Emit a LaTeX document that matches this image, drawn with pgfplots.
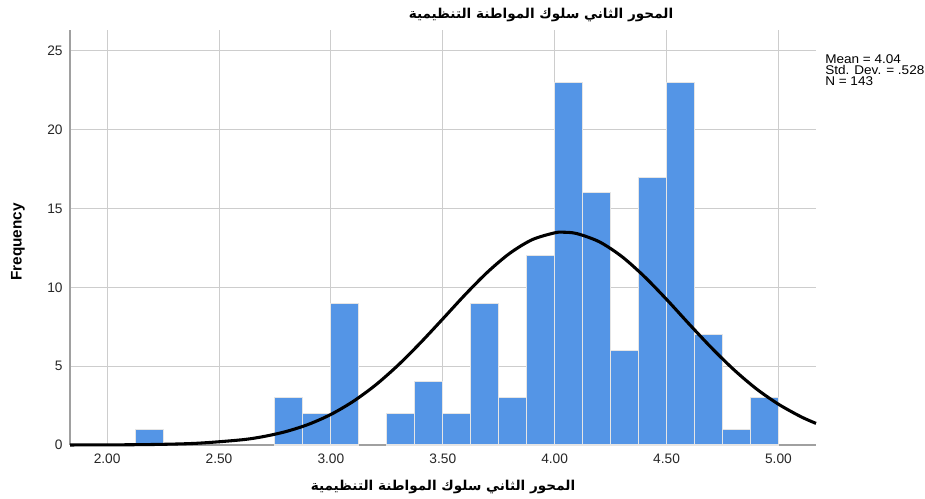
\documentclass[border=0pt]{standalone}
\usepackage{pgfplots}
\pgfplotsset{compat=1.18}
\usepackage{fontspec}
\setmainfont{Liberation Sans}
\newfontfamily\legfont[FakeStretch=1.07]{Liberation Sans}
\newfontfamily\arabicfont[Script=Arabic]{DejaVu Sans}
\TeXXeTstate=1
\definecolor{barblue}{RGB}{84,149,230}
\definecolor{gridgray}{RGB}{205,205,205}
\definecolor{axgray}{RGB}{160,160,160}
\begin{document}
\begin{tikzpicture}
\begin{axis}[
  scale only axis, width=559.5pt, height=311.25pt,
  xmin=1.834, xmax=5.168, ymin=0, ymax=26.33,
  axis x line*=bottom, axis y line*=left,
  axis line style={axgray, line width=1.2pt, -},
  xtick={2,2.5,...,5}, ytick={0,5,...,25},
  xticklabel style={/pgf/number format/fixed, /pgf/number format/zerofill, /pgf/number format/precision=2},
  /pgf/number format/assume math mode=true,
  tick label style={font=\fontsize{10.3}{12}\selectfont, text=black!85},
  major tick length=0pt,
  grid=major, major grid style={gridgray, line width=0.75pt},
  yticklabel style={xshift=-2pt},
  xticklabel style={yshift=-3pt},
  clip=false,
]
\addplot[ybar interval, fill=barblue, draw=white!90!black, line width=0.8pt] coordinates {
 (2.125,1) (2.25,1)
};
\addplot[ybar interval, fill=barblue, draw=white!90!black, line width=0.8pt] coordinates {
 (2.75,3) (2.875,2) (3.0,9) (3.125,9)
};
\addplot[ybar interval, fill=barblue, draw=white!90!black, line width=0.8pt] coordinates {
 (3.25,2) (3.375,4) (3.5,2) (3.625,9) (3.75,3) (3.875,12) (4.0,23) (4.125,16)
 (4.25,6) (4.375,17) (4.5,23) (4.625,7) (4.75,1) (4.875,3) (5.0,3)
};
\addplot[black, line width=2.3pt, smooth] coordinates {
 (1.834,0.002) (2.0,0.008) (2.2,0.031) (2.4,0.109) (2.6,0.328) (2.7,0.539)
 (2.8,0.857) (2.9,1.312) (3.0,1.94) (3.1,2.77) (3.2,3.81) (3.3,5.06)
 (3.4,6.48) (3.5,8.00) (3.6,9.54) (3.7,10.97) (3.8,12.17) (3.9,13.03)
 (4.0,13.46) (4.04,13.5) (4.1,13.41) (4.2,12.89) (4.3,11.96) (4.4,10.70)
 (4.5,9.24) (4.6,7.69) (4.7,6.18) (4.8,4.79) (4.9,3.58) (5.0,2.59)
 (5.1,1.80) (5.168,1.37)
};
\end{axis}
\path (current axis.south west) ++(-52.5pt,333.75pt) coordinate (O);
\begin{scope}[shift={(O)}, x=0.75pt, y=-0.75pt]
\path (0,0) rectangle (925,497);
\node[anchor=center] at (541,15) {\fontsize{10.2}{12}\selectfont\arabicfont\bfseries\beginR المحور الثاني سلوك المواطنة التنظيمية\endR};
\node[anchor=center] at (443,487) {\fontsize{10.2}{12}\selectfont\arabicfont\bfseries\beginR المحور الثاني سلوك المواطنة التنظيمية\endR};
\node[anchor=center, rotate=90] at (18,242) {\fontsize{11.5}{13}\selectfont\bfseries Frequency};
\node[anchor=north west, align=left, inner sep=0pt, font=\legfont\fontsize{9.5}{8.3}\selectfont] at (825,54) {Mean = 4.04\\Std. Dev. = .528\\N = 143};
\end{scope}
\end{tikzpicture}
\end{document}
